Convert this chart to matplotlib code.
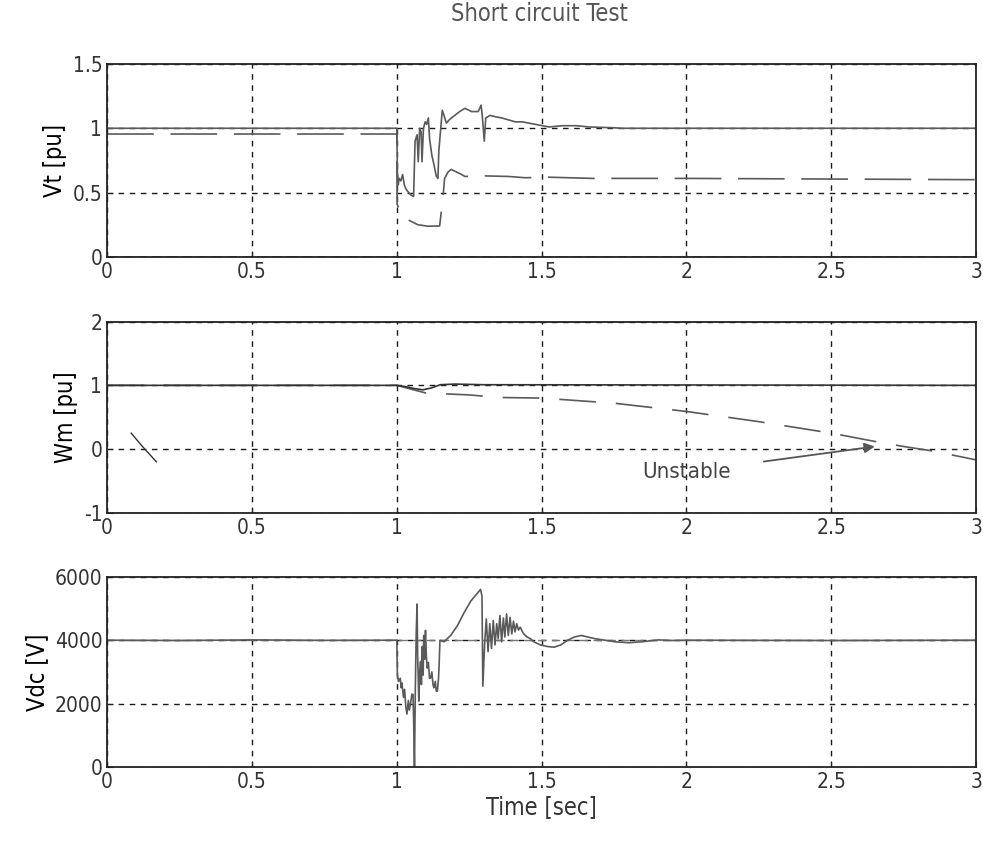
import numpy as np
import matplotlib.pyplot as plt

plt.rcParams['font.family'] = ['DejaVu Sans']
plt.rcParams['font.stretch'] = 'condensed'

# ---- data ----
x_ticks = [0, 0.5, 1, 1.5, 2, 2.5, 3]
x_tick_labels = ['0', '0.5', '1', '1.5', '2', '2.5', '3']

# Vt [pu] - solid (terminal voltage)
vt_t = [0, 1.0, 1.002, 1.005, 1.008, 1.014, 1.020, 1.026, 1.031, 1.037, 1.049, 1.058,
        1.063, 1.070, 1.074, 1.079, 1.084, 1.087, 1.092, 1.098, 1.103, 1.109, 1.113,
        1.121, 1.128, 1.136, 1.142, 1.145, 1.151, 1.157, 1.163, 1.171, 1.183, 1.200,
        1.217, 1.235, 1.258, 1.281, 1.291, 1.295, 1.302, 1.307, 1.322, 1.340, 1.363,
        1.386, 1.409, 1.433, 1.456, 1.479, 1.502, 1.526, 1.572, 1.619, 1.665, 1.735,
        1.781, 3.0]
vt_v = [1.0, 1.0, 0.66, 0.56, 0.61, 0.59, 0.64, 0.56, 0.53, 0.51, 0.48, 0.47,
        0.90, 0.95, 0.74, 1.00, 0.97, 0.74, 1.00, 1.05, 1.03, 1.08, 0.92,
        0.79, 0.72, 0.63, 0.61, 0.82, 0.98, 1.14, 1.10, 1.04, 1.07, 1.10,
        1.13, 1.155, 1.13, 1.13, 1.18, 1.10, 0.90, 1.08, 1.10, 1.09, 1.08,
        1.065, 1.05, 1.05, 1.04, 1.03, 1.02, 1.01, 1.02, 1.02, 1.01, 1.005,
        1.0, 1.0]

# Vt - dashed (second machine)
vt2_t = [0, 1.0, 1.001, 1.014, 1.037, 1.072, 1.107, 1.148, 1.154, 1.160, 1.165, 1.177,
         1.188, 1.206, 1.224, 1.235, 1.293, 1.386, 1.444, 1.514, 1.677, 2.0, 2.5, 3.0]
vt2_v = [0.955, 0.955, 0.41, 0.34, 0.29, 0.25, 0.238, 0.24, 0.36, 0.48, 0.61, 0.66,
         0.68, 0.66, 0.64, 0.625, 0.63, 0.625, 0.615, 0.62, 0.61, 0.61, 0.605, 0.60]

vt0_t = [0, 3.0]
vt0_v = [0.0, 0.0]

# Wm [pu]
wm_t = [0, 1.0, 1.03, 1.06, 1.09, 1.12, 1.15, 1.2, 1.3, 3.0]
wm_v = [1.0, 1.0, 0.98, 0.95, 0.93, 0.96, 1.01, 1.02, 1.01, 1.0]

wm2_t = [0, 1.0, 1.05, 1.1, 1.25, 1.35, 1.5, 1.75, 2.0, 2.25, 2.5, 2.65, 2.75, 2.85, 3.0]
wm2_v = [1.0, 1.0, 0.94, 0.88, 0.85, 0.81, 0.80, 0.72, 0.59, 0.43, 0.25, 0.12, 0.04, -0.03, -0.17]

stray_t = [0.083, 0.12, 0.17]
stray_v = [0.25, 0.05, -0.2]

# Vdc [V]
vdc_t = [0, 0.25, 0.5, 0.75, 1.0,
         1.002, 1.006, 1.012, 1.015, 1.018, 1.023, 1.027, 1.031, 1.035, 1.040,
         1.043, 1.047, 1.052, 1.056, 1.058, 1.061, 1.064, 1.067, 1.070, 1.072,
         1.076, 1.079, 1.082, 1.085, 1.088, 1.091, 1.093, 1.096, 1.099, 1.102,
         1.105, 1.109, 1.113, 1.117, 1.121, 1.125, 1.128, 1.133, 1.136, 1.140,
         1.144, 1.146, 1.149, 1.163, 1.186, 1.210, 1.233, 1.256, 1.280, 1.289,
         1.294, 1.297, 1.303, 1.309, 1.315, 1.321, 1.327, 1.333, 1.339, 1.345,
         1.350, 1.356, 1.362, 1.368, 1.373, 1.379, 1.385, 1.391, 1.397, 1.403,
         1.408, 1.414, 1.420, 1.426, 1.432, 1.438, 1.450, 1.461, 1.473, 1.496,
         1.520, 1.543, 1.566, 1.590, 1.613, 1.636, 1.660, 1.683, 1.718, 1.753,
         1.800, 1.846, 1.904, 1.950, 2.0, 2.5, 3.0]
vdc_v = [4000, 3990, 4010, 3995, 4000,
         2900, 2700, 2800, 2500, 2650, 2200, 2450, 1900, 1670, 2100,
         1800, 1980, 2300, 2290, 1500, 0, 2500, 4200, 5140, 3500,
         2080, 3000, 3330, 2600, 3800, 2900, 4150, 3400, 4310, 3500,
         3120, 3300, 2800, 2810, 3000, 2600, 2500, 2700, 2400, 2390,
         2800, 3200, 4000, 3950, 4150, 4470, 4880, 5240, 5500, 5600,
         5400, 2550, 3850, 4670, 3640, 4520, 3740, 4620, 3850, 4520,
         4050, 4780, 3950, 4700, 4100, 4830, 4150, 4720, 4200, 4600,
         4260, 4520, 4320, 4410, 4300, 4200, 4100, 4050, 3950, 3850,
         3800, 3780, 3850, 4000, 4100, 4150, 4100, 4050, 4000, 3950,
         3920, 3950, 4010, 3990, 4000, 3990, 4000]

vdc_ref_t = [0, 3.0]
vdc_ref_v = [4000, 4000]

line_col = '#5a5a5a'
grid_col = '#1a1a1a'

fig = plt.figure(figsize=(9.83, 8.42), dpi=100)
ax1 = fig.add_axes([0.109, 0.695, 0.884, 0.229])
ax2 = fig.add_axes([0.109, 0.391, 0.884, 0.227])
ax3 = fig.add_axes([0.109, 0.089, 0.884, 0.226])

# top: terminal voltage
ax1.plot(vt0_t, vt0_v, color='#777777', lw=1.2, linestyle=(0, (6, 3)))
ax1.plot(vt2_t, vt2_v, color=line_col, lw=1.2, linestyle=(0, (28, 10)))
ax1.plot(vt_t, vt_v, color=line_col, lw=1.2)
ax1.set_ylim(0, 1.5)
ax1.set_yticks([0, 0.5, 1, 1.5])
ax1.set_yticklabels(['0', '0.5', '1', '1.5'])
ax1.set_ylabel('Vt [pu]')
fig.text(0.549, 1 - 14 / 842, 'Short circuit Test', ha='center', va='center',
         fontsize=17, color='#555555')

# middle: rotor speed
ax2.plot(wm2_t, wm2_v, color=line_col, lw=1.2, linestyle=(0, (22, 12)))
ax2.plot(wm_t, wm_v, color='#333333', lw=1.2)
ax2.plot(stray_t, stray_v, color='#333333', lw=1.0)
ax2.set_ylim(-1, 2)
ax2.set_yticks([-1, 0, 1, 2])
ax2.set_yticklabels(['-1', '0', '1', '2'])
ax2.set_ylabel('Wm [pu]')
ax2.annotate('Unstable', xy=(2.65, 0.04), xytext=(2.0, -0.36),
             ha='center', va='center', fontsize=16, color='#444444',
             arrowprops=dict(arrowstyle='-|>', color='#555555', lw=1.3,
                             shrinkA=22, shrinkB=0, mutation_scale=15))

# bottom: dc-link voltage
ax3.plot(vdc_ref_t, vdc_ref_v, color='#777777', lw=1.0, linestyle=(0, (6, 4)))
ax3.plot(vdc_t, vdc_v, color=line_col, lw=1.2)
ax3.set_ylim(0, 6000)
ax3.set_yticks([0, 2000, 4000, 6000])
ax3.set_yticklabels(['0', '2000', '4000', '6000'])
ax3.set_ylabel('Vdc [V]')
ax3.set_xlabel('Time [sec]', fontsize=17, color='#333333', labelpad=2)

for ax in (ax1, ax2, ax3):
    ax.set_xlim(0, 3)
    ax.set_xticks(x_ticks)
    ax.set_xticklabels(x_tick_labels)
    ax.grid(True, color=grid_col, linestyle=(0, (4, 4)), linewidth=1.0)
    ax.tick_params(direction='in', length=4, labelsize=15, colors='#222222',
                   labelcolor='#333333')
    ax.yaxis.label.set_size(17)
    for s in ax.spines.values():
        s.set_linewidth(1.3)
        s.set_color('#222222')

fig.savefig('out.png', dpi=100)
